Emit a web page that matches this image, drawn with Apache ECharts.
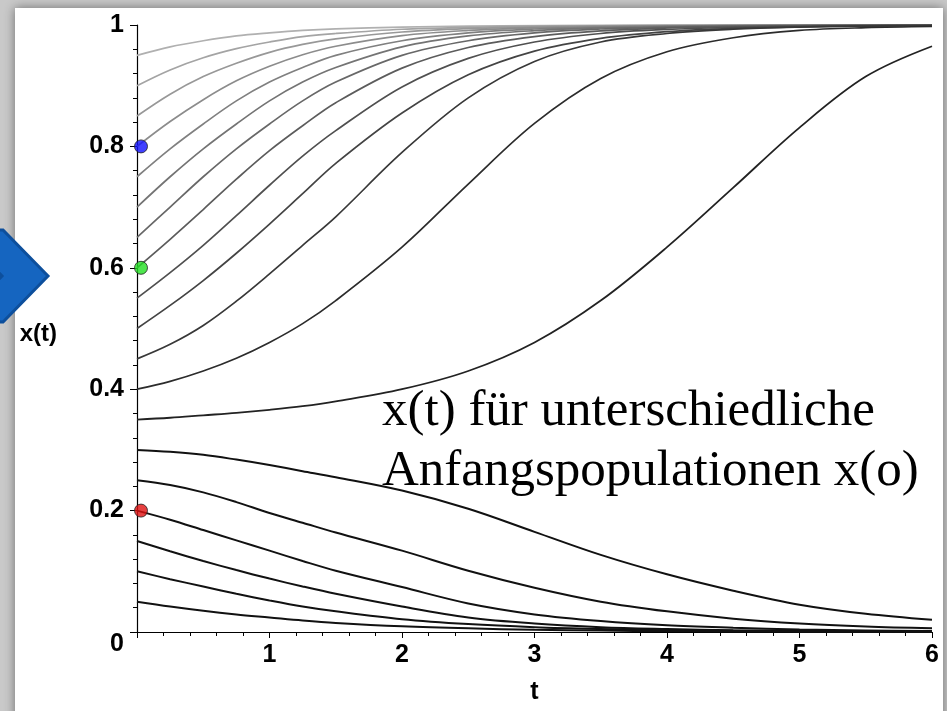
<!DOCTYPE html>
<html>
<head>
<meta charset="utf-8">
<script src="https://cdn.jsdelivr.net/npm/echarts@6/dist/echarts.min.js"></script>
<style>
  html, body { margin: 0; padding: 0; background: #c9c9c9; }
  #chart { width: 947px; height: 711px; }
</style>
</head>
<body>
<div id="chart"></div>
<script>
// Time grid shared by every trajectory
const timeSteps = [0, 0.25, 0.5, 0.75, 1, 1.25, 1.5, 2, 2.5, 3, 3.5, 4, 4.5, 5, 5.5, 6];

// x(t) for the different starting populations x(0)
const x095 = [0.95, 0.964, 0.974, 0.982, 0.987, 0.991, 0.9935, 0.9965, 0.9982, 0.9991, 0.9995, 0.9997, 0.9998, 0.9999, 0.9999, 1];
const x090 = [0.90, 0.926, 0.946, 0.961, 0.972, 0.981, 0.986, 0.993, 0.9962, 0.998, 0.999, 0.9995, 0.9997, 0.9998, 0.9999, 0.9999];
const x085 = [0.85, 0.886, 0.915, 0.937, 0.955, 0.968, 0.977, 0.9885, 0.9942, 0.9969, 0.9984, 0.9993, 0.9996, 0.9998, 0.9998, 0.9999];
const x080 = [0.80, 0.841, 0.877, 0.908, 0.932, 0.951, 0.965, 0.9825, 0.991, 0.9953, 0.9975, 0.9988, 0.9994, 0.9996, 0.9998, 0.9998];
const x075 = [0.75, 0.796, 0.837, 0.875, 0.906, 0.930, 0.950, 0.974, 0.987, 0.9934, 0.9965, 0.9982, 0.9991, 0.9995, 0.9997, 0.9998];
const x070 = [0.70, 0.750, 0.796, 0.837, 0.875, 0.906, 0.930, 0.964, 0.982, 0.9907, 0.9952, 0.9974, 0.9987, 0.9994, 0.9996, 0.9998];
const x065 = [0.65, 0.700, 0.750, 0.796, 0.837, 0.875, 0.906, 0.950, 0.974, 0.987, 0.9934, 0.9965, 0.9982, 0.9991, 0.9995, 0.9997];
const x060 = [0.60, 0.647, 0.696, 0.746, 0.793, 0.834, 0.872, 0.929, 0.963, 0.981, 0.9904, 0.9951, 0.9974, 0.9987, 0.9994, 0.9996];
const x055 = [0.55, 0.592, 0.637, 0.686, 0.736, 0.784, 0.826, 0.898, 0.945, 0.972, 0.986, 0.9927, 0.9961, 0.998, 0.999, 0.9995];
const x050 = [0.50, 0.538, 0.579, 0.624, 0.672, 0.722, 0.772, 0.855, 0.918, 0.957, 0.978, 0.989, 0.9945, 0.997, 0.9985, 0.9993];
const x045 = [0.45, 0.474, 0.505, 0.545, 0.590, 0.637, 0.684, 0.790, 0.880, 0.940, 0.972, 0.986, 0.993, 0.9965, 0.9983, 0.9992];
const x040 = [0.40, 0.413, 0.430, 0.451, 0.477, 0.508, 0.546, 0.634, 0.738, 0.838, 0.912, 0.956, 0.979, 0.991, 0.9956, 0.9975];
const x035 = [0.35, 0.353, 0.357, 0.361, 0.366, 0.372, 0.380, 0.400, 0.430, 0.477, 0.546, 0.634, 0.732, 0.831, 0.915, 0.965];
const x030 = [0.30, 0.297, 0.292, 0.284, 0.275, 0.265, 0.255, 0.233, 0.203, 0.165, 0.127, 0.095, 0.068, 0.045, 0.030, 0.020];
const x025 = [0.25, 0.242, 0.230, 0.214, 0.196, 0.180, 0.164, 0.134, 0.101, 0.073, 0.050, 0.034, 0.022, 0.014, 0.009, 0.006];
const x020 = [0.20, 0.185, 0.168, 0.151, 0.134, 0.117, 0.101, 0.074, 0.047, 0.029, 0.018, 0.011, 0.007, 0.004, 0.0025, 0.0015];
const x015 = [0.15, 0.133, 0.117, 0.102, 0.088, 0.075, 0.063, 0.042, 0.024, 0.014, 0.008, 0.005, 0.003, 0.002, 0.001, 0.0007];
const x010 = [0.10, 0.087, 0.075, 0.063, 0.052, 0.042, 0.034, 0.021, 0.013, 0.008, 0.005, 0.003, 0.002, 0.0012, 0.0008, 0.0005];
const x005 = [0.05, 0.042, 0.035, 0.029, 0.024, 0.019, 0.015, 0.0095, 0.006, 0.0037, 0.0023, 0.0015, 0.001, 0.0006, 0.0004, 0.0003];

// Highlighted starting values on the x(t) axis
const markedStarts = [
  { t: 0, x: 0.8, color: '#1010ff' },
  { t: 0, x: 0.6, color: '#22e022' },
  { t: 0, x: 0.2, color: '#e01010' }
];

// Axis tick values
const tTicks = [0, 1, 2, 3, 4, 5, 6];
const xTicks = [0, 0.2, 0.4, 0.6, 0.8, 1];

const trajectories = [
  { values: x095, color: '#b0b0b0', width: 1.7 },
  { values: x090, color: '#a4a4a4', width: 1.7 },
  { values: x085, color: '#989898', width: 1.7 },
  { values: x080, color: '#8c8c8c', width: 1.7 },
  { values: x075, color: '#808080', width: 1.7 },
  { values: x070, color: '#747474', width: 1.7 },
  { values: x065, color: '#686868', width: 1.7 },
  { values: x060, color: '#5c5c5c', width: 1.7 },
  { values: x055, color: '#505050', width: 1.7 },
  { values: x050, color: '#444444', width: 1.7 },
  { values: x045, color: '#383838', width: 1.7 },
  { values: x040, color: '#2c2c2c', width: 1.7 },
  { values: x035, color: '#222222', width: 1.8 },
  { values: x030, color: '#111111', width: 2 },
  { values: x025, color: '#111111', width: 2 },
  { values: x020, color: '#111111', width: 2 },
  { values: x015, color: '#111111', width: 2 },
  { values: x010, color: '#111111', width: 2 },
  { values: x005, color: '#111111', width: 2 }
];

const lineSeries = trajectories.map(function (tr) {
  return {
    type: 'line',
    data: timeSteps.map(function (t, i) { return [t, tr.values[i]]; }),
    showSymbol: false,
    smooth: 0.35,
    lineStyle: { color: tr.color, width: tr.width },
    silent: true,
    z: 3
  };
});

const dotSeries = {
  type: 'scatter',
  data: markedStarts.map(function (m) {
    return { value: [m.t, m.x], itemStyle: { color: m.color } };
  }),
  symbol: 'circle',
  symbolSize: 13,
  symbolOffset: [4, 0],
  itemStyle: { borderColor: '#222', borderWidth: 1 },
  clip: false,
  silent: true,
  z: 5
};

const labelFont = { fontFamily: 'Liberation Sans', fontSize: 25, fontWeight: 'bold', color: '#000' };

const chart = echarts.init(document.getElementById('chart'), null, { renderer: 'canvas' });
chart.setOption({
  backgroundColor: '#c9c9c9',
  animation: false,
  graphic: [
    {
      type: 'rect', z: -100, silent: true,
      shape: { x: 15, y: 8, width: 928, height: 720 },
      style: { fill: '#ffffff', shadowBlur: 10, shadowColor: 'rgba(0,0,0,0.45)' }
    },
    {
      type: 'polygon', z: -90, silent: true,
      shape: { points: [[-43, 230], [3, 230], [48, 276], [3, 322], [-43, 322], [2, 276]] },
      style: { fill: '#1565c0', stroke: '#0d4f9c', lineWidth: 3 }
    }
  ],
  title: {
    text: 'x(t) für unterschiedliche\nAnfangspopulationen x(o)',
    left: 377,
    top: 377,
    textStyle: {
      fontFamily: 'Liberation Serif',
      fontSize: 51,
      fontWeight: 'normal',
      lineHeight: 60,
      color: '#000'
    }
  },
  grid: { left: 137, right: 15, top: 25, bottom: 79, containLabel: false },
  xAxis: {
    type: 'value',
    min: tTicks[0],
    max: tTicks[tTicks.length - 1],
    interval: 1,
    name: 't',
    nameLocation: 'middle',
    nameGap: 48,
    nameTextStyle: { fontFamily: 'Liberation Sans', fontSize: 25, fontWeight: 'bold', color: '#000' },
    axisLine: { show: true, onZero: false, lineStyle: { color: '#000', width: 1.2 } },
    axisTick: { show: true, length: 6, lineStyle: { color: '#000' } },
    minorTick: { show: true, splitNumber: 5, length: 4, lineStyle: { color: '#000' } },
    splitLine: { show: false },
    axisLabel: Object.assign({
      margin: 11,
      formatter: function (v) { return v === 0 ? '' : String(v); }
    }, labelFont)
  },
  yAxis: {
    type: 'value',
    min: xTicks[0],
    max: xTicks[xTicks.length - 1],
    interval: 0.2,
    name: 'x(t)',
    nameLocation: 'middle',
    nameRotate: 0,
    nameGap: 80,
    nameTextStyle: {
      fontFamily: 'Liberation Sans', fontSize: 24, fontWeight: 'bold', color: '#000',
      verticalAlign: 'top', lineHeight: 11
    },
    axisLine: { show: true, onZero: false, lineStyle: { color: '#000', width: 1.2 } },
    axisTick: { show: true, length: 7, lineStyle: { color: '#000' } },
    minorTick: { show: true, splitNumber: 5, length: 4, lineStyle: { color: '#000' } },
    splitLine: { show: false },
    axisLabel: Object.assign({
      margin: 13,
      formatter: function (v) {
        if (v === 0) return '{o|0}';
        return v === 1 ? '1' : v.toFixed(1);
      },
      rich: {
        o: { fontFamily: 'Liberation Sans', fontSize: 25, fontWeight: 'bold', color: '#000', padding: [24, 0, 0, 0] }
      }
    }, labelFont)
  },
  series: lineSeries.concat([dotSeries])
});
</script>
</body>
</html>
